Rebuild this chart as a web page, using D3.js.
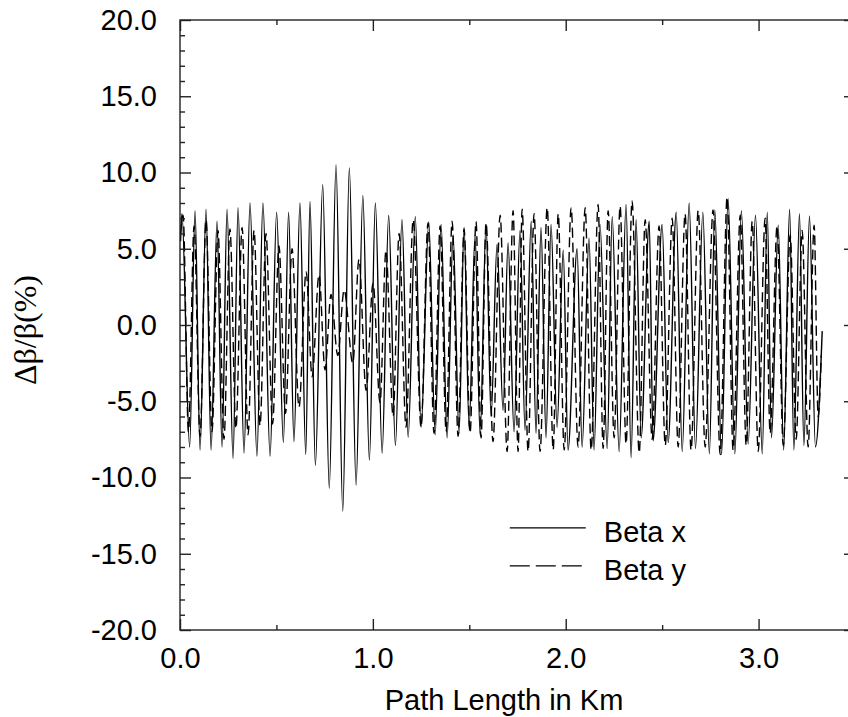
<!DOCTYPE html>
<html>
<head>
<meta charset="utf-8">
<script src="https://cdn.jsdelivr.net/npm/d3@7"></script>
<style>
  body { margin: 0; background: #fff; }
  svg { display: block; }
  .tick text { font-family: "Liberation Sans", Arial, sans-serif; }
</style>
</head>
<body>
<div id="chart"></div>
<script>
// Beta x (solid) - local peaks/troughs
const betaXKm = [0.003, 0.010, 0.050, 0.078, 0.104, 0.135, 0.161, 0.192, 0.218, 0.244,
  0.275, 0.301, 0.332, 0.363, 0.399, 0.430, 0.467, 0.501, 0.536, 0.563,
  0.591, 0.622, 0.652, 0.674, 0.702, 0.740, 0.774, 0.809, 0.844, 0.878,
  0.913, 0.948, 0.982, 1.013, 1.048, 1.082, 1.117, 1.151, 1.183, 1.220,
  1.250, 1.290, 1.323, 1.354, 1.385, 1.416, 1.447, 1.473, 1.499, 1.530,
  1.556, 1.587, 1.613, 1.644, 1.675, 1.701, 1.732, 1.763, 1.789, 1.821,
  1.846, 1.872, 1.898, 1.924, 1.955, 1.987, 2.012, 2.059, 2.085, 2.121,
  2.147, 2.178, 2.215, 2.241, 2.277, 2.313, 2.339, 2.365, 2.391, 2.433,
  2.453, 2.500, 2.531, 2.573, 2.604, 2.640, 2.673, 2.711, 2.745, 2.773,
  2.808, 2.842, 2.877, 2.911, 2.946, 2.984, 3.019, 3.045, 3.067, 3.102,
  3.130, 3.161, 3.183, 3.212, 3.235, 3.264, 3.295, 3.330];
const betaXVal = [5.5, 7.3, -8.0, 7.5, -8.2, 7.6, -8.2, 6.8, -8.0, 7.6,
  -8.75, 7.7, -8.4, 8.0, -8.6, 8.0, -8.6, 7.4, -7.7, 7.4,
  -7.65, 8.0, -8.5, 8.1, -9.2, 9.2, -10.7, 10.5, -12.2, 10.3,
  -10.5, 8.5, -8.85, 8.0, -8.4, 7.2, -7.9, 6.9, -7.35, 7.1,
  -6.7, 6.75, -7.2, 6.6, -7.4, 5.9, -7.1, 6.4, -6.7, 5.9,
  -7.2, 6.6, -6.0, 5.3, -5.6, 5.4, -7.0, 6.2, -6.9, 6.8,
  -7.1, 6.4, -7.4, 6.6, -6.7, 4.9, -8.2, 5.0, -8.0, 5.7,
  -8.2, 6.6, -8.1, 7.1, -8.3, 7.9, -8.7, 6.9, -7.4, 6.8,
  -7.6, 6.6, -7.7, 7.4, -8.3, 8.0, -8.1, 7.4, -8.45, 7.55,
  -8.5, 8.3, -8.45, 7.5, -7.8, 7.2, -8.45, 7.4, -7.4, 6.55,
  -8.2, 7.6, -8.2, 7.3, -7.9, 7.15, -8.0, -0.4];

// Beta y (dashed)
const betaYKm = [0.003, 0.016, 0.044, 0.073, 0.104, 0.135, 0.166, 0.197, 0.228, 0.259,
  0.290, 0.322, 0.353, 0.384, 0.415, 0.446, 0.480, 0.513, 0.547, 0.581,
  0.617, 0.654, 0.685, 0.721, 0.752, 0.783, 0.818, 0.851, 0.896, 0.928,
  0.965, 1.001, 1.037, 1.068, 1.105, 1.136, 1.172, 1.209, 1.250, 1.286,
  1.317, 1.349, 1.380, 1.411, 1.442, 1.473, 1.504, 1.535, 1.561, 1.587,
  1.623, 1.660, 1.696, 1.727, 1.753, 1.774, 1.805, 1.836, 1.867, 1.904,
  1.935, 1.961, 1.992, 2.028, 2.064, 2.101, 2.132, 2.168, 2.194, 2.220,
  2.251, 2.282, 2.313, 2.344, 2.381, 2.412, 2.448, 2.484, 2.516, 2.552,
  2.583, 2.619, 2.650, 2.687, 2.723, 2.764, 2.801, 2.837, 2.868, 2.905,
  2.936, 2.967, 2.998, 3.034, 3.060, 3.096, 3.128, 3.164, 3.195, 3.226,
  3.257, 3.288, 3.309, 3.325];
const betaYVal = [6.0, 7.2, -7.0, 6.5, -7.3, 6.9, -7.0, 6.2, -7.5, 6.3,
  -6.8, 6.4, -7.2, 6.2, -6.6, 6.0, -6.5, 5.2, -5.8, 5.0,
  -5.4, 3.5, -3.4, 3.3, -2.95, 2.0, -2.0, 2.3, -2.5, 4.3,
  -4.3, 2.75, -5.1, 4.9, -6.0, 6.0, -6.7, 6.9, -6.7, 6.7,
  -7.1, 6.5, -7.0, 6.8, -7.3, 6.3, -7.1, 6.8, -7.4, 6.7,
  -7.65, 7.2, -8.3, 7.5, -8.3, 7.6, -8.3, 7.3, -8.3, 7.7,
  -8.2, 7.3, -8.2, 7.7, -8.0, 7.7, -8.2, 7.9, -8.1, 7.5,
  -7.4, 7.8, -7.8, 8.15, -8.4, 6.9, -7.5, 6.5, -7.9, 7.0,
  -8.0, 7.3, -8.2, 7.5, -8.0, 7.55, -8.5, 8.4, -8.2, 7.2,
  -7.9, 6.8, -8.3, 7.0, -7.1, 6.5, -7.9, 5.9, -7.5, 6.2,
  -8.0, 6.55, -6.0, -2.0];

const xTickValues = [0, 1, 2, 3];
const xTickLabels = ["0.0", "1.0", "2.0", "3.0"];
const yTickValues = [-20, -15, -10, -5, 0, 5, 10, 15, 20];
const yTickLabels = ["-20.0", "-15.0", "-10.0", "-5.0", "0.0", "5.0", "10.0", "15.0", "20.0"];
const seriesNames = ["Beta x", "Beta y"];

const width = 848, height = 717;
const margin = {top: 20, right: -7, bottom: 87, left: 180};
const innerWidth = width - margin.left - margin.right;
const innerHeight = height - margin.top - margin.bottom;

const svg = d3.select("#chart").append("svg")
    .attr("width", width).attr("height", height);
svg.append("rect").attr("width", width).attr("height", height).attr("fill", "#fff");

const g = svg.append("g").attr("transform", `translate(${margin.left},${margin.top})`);

const x = d3.scaleLinear().domain([0, 3.5]).range([0, innerWidth]);
const y = d3.scaleLinear().domain([-20, 20]).range([innerHeight, 0]);

const fontSize = 29;

// Lines
const line = d3.line()
    .x(d => x(d[0]))
    .y(d => y(d[1]))
    .curve(d3.curveMonotoneX);

const betaX = betaXKm.map((k, i) => [k, betaXVal[i]]);
const betaY = betaYKm.map((k, i) => [k, betaYVal[i]]);

g.append("path")
    .datum(betaY)
    .attr("fill", "none")
    .attr("stroke", "#000")
    .attr("stroke-width", 1.4)
    .attr("stroke-dasharray", "10,5")
    .attr("d", line);

g.append("path")
    .datum(betaX)
    .attr("fill", "none")
    .attr("stroke", "#000")
    .attr("stroke-width", 1.4)
    .attr("d", line);

// Axes - ticks pointing inward on all four sides
function styleAxis(sel) {
    sel.select(".domain").remove();
    sel.selectAll(".tick line").attr("stroke", "#222").attr("stroke-width", 1.4);
    sel.selectAll(".tick text").attr("font-size", fontSize).attr("fill", "#000");
}
function bareAxis(sel) {
    styleAxis(sel);
    sel.selectAll(".tick text").remove();
}

const yMinor = d3.range(-20, 21, 1).filter(v => v % 5 !== 0);
const xMinor = [0.5, 1.5, 2.5, 3.5];

g.append("g")
    .call(d3.axisLeft(y).tickValues(yTickValues).tickSize(-11).tickPadding(23)
        .tickFormat((d, i) => yTickLabels[i]))
    .call(styleAxis);
g.append("g")
    .call(d3.axisLeft(y).tickValues(yMinor).tickSize(-5))
    .call(bareAxis);

g.append("g")
    .attr("transform", `translate(${innerWidth},0)`)
    .call(d3.axisRight(y).tickValues(yTickValues).tickSize(-11))
    .call(bareAxis);
g.append("g")
    .attr("transform", `translate(${innerWidth},0)`)
    .call(d3.axisRight(y).tickValues(yMinor).tickSize(-5))
    .call(bareAxis);

g.append("g")
    .attr("transform", `translate(0,${innerHeight})`)
    .call(d3.axisBottom(x).tickValues(xTickValues).tickSize(-11).tickPadding(17)
        .tickFormat((d, i) => xTickLabels[i]))
    .call(styleAxis);
g.append("g")
    .attr("transform", `translate(0,${innerHeight})`)
    .call(d3.axisBottom(x).tickValues(xMinor).tickSize(-5))
    .call(bareAxis);

g.append("g")
    .call(d3.axisTop(x).tickValues(xTickValues).tickSize(-11))
    .call(bareAxis);
g.append("g")
    .call(d3.axisTop(x).tickValues(xMinor).tickSize(-5))
    .call(bareAxis);

// Frame
g.append("rect")
    .attr("width", innerWidth).attr("height", innerHeight)
    .attr("fill", "none").attr("stroke", "#222").attr("stroke-width", 1.4);

// Axis titles
svg.append("text")
    .attr("x", 504).attr("y", 710)
    .attr("text-anchor", "middle")
    .attr("font-family", "Liberation Sans, Arial, sans-serif")
    .attr("font-size", fontSize)
    .text("Path Length in Km");

svg.append("text")
    .attr("transform", `translate(36,${margin.top + y(0) + 5}) rotate(-90)`)
    .attr("text-anchor", "middle")
    .attr("font-family", "Liberation Serif, Times New Roman, serif")
    .attr("font-size", 32)
    .text("Δβ/β(%)");

// Legend
const legend = g.append("g").attr("transform", `translate(${x(1.71)},${y(-13.3)})`);
seriesNames.forEach((name, i) => {
    const row = legend.append("g").attr("transform", `translate(0,${i * 38})`);
    row.append("line")
        .attr("x1", 0).attr("x2", 76).attr("y1", 0).attr("y2", 0)
        .attr("stroke", "#000").attr("stroke-width", 1.2)
        .attr("stroke-dasharray", i === 1 ? "20,6" : null);
    row.append("text")
        .attr("x", 94).attr("y", 14)
        .attr("font-family", "Liberation Sans, Arial, sans-serif")
        .attr("font-size", fontSize)
        .text(name);
});
</script>
</body>
</html>
